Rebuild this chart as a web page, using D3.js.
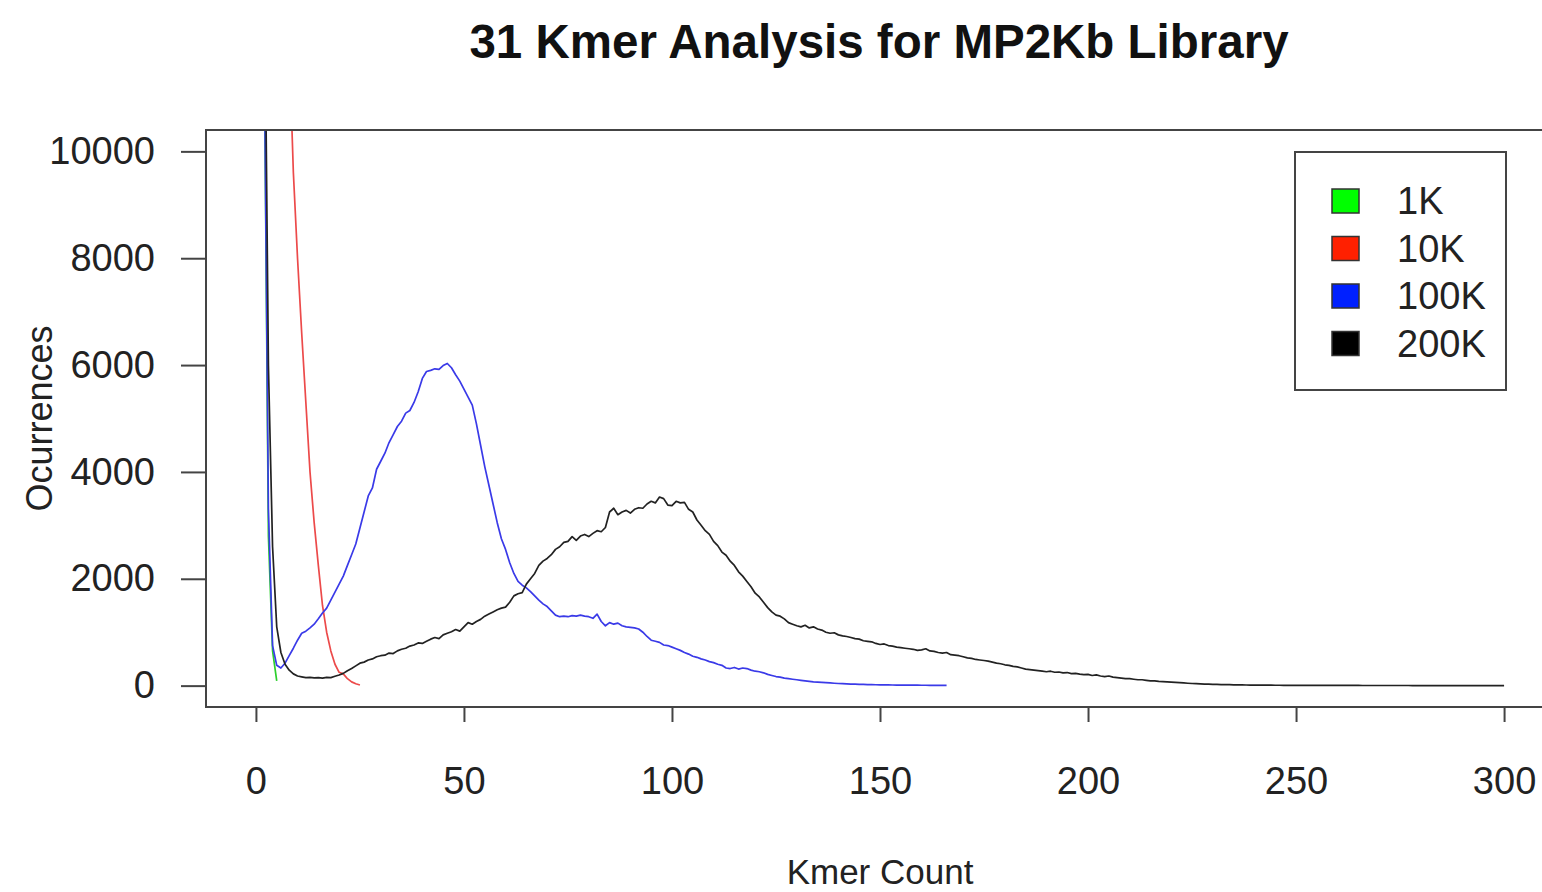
<!DOCTYPE html>
<html>
<head>
<meta charset="utf-8">
<script src="https://cdn.jsdelivr.net/npm/d3@7"></script>
<style>
  body { margin: 0; background: #fff; }
  svg { display: block; font-family: "Liberation Sans", Arial, sans-serif; }
</style>
</head>
<body>
<svg id="chart" width="1542" height="892"></svg>
<script>
// k-mer histogram, value at kmer count 1, 2, 3 ... (one entry per count)
const kmer1K = [150000, 12000, 2800, 650, 90];

const kmer10K = [
  200000, 90000, 50000, 32000, 23000, 17500, 14000, 12000, 9600, 8000,
  6600, 5300, 4000, 3050, 2250, 1500, 1000, 650, 400, 250,
  220, 130, 70, 35, 12
];

const kmer100K = [
  150000, 12000, 3300, 750, 380, 330, 420, 560, 700, 850,
  980, 1020, 1080, 1150, 1250, 1360, 1450, 1600, 1750, 1900,
  2050, 2250, 2450, 2650, 2950, 3250, 3550, 3700, 4050, 4200,
  4350, 4550, 4700, 4850, 4950, 5100, 5150, 5300, 5500, 5750,
  5880, 5900, 5930, 5920, 5990, 6030, 5950, 5820, 5700, 5550,
  5400, 5250, 4900, 4500, 4100, 3750, 3400, 3050, 2750, 2550,
  2300, 2100, 1950, 1880, 1830, 1760, 1680, 1600, 1530, 1480,
  1400, 1320, 1290, 1300, 1290, 1310, 1300, 1320, 1300, 1290,
  1260, 1340, 1200, 1120, 1180, 1150, 1170, 1120, 1100, 1090,
  1080, 1060, 1000, 920, 850, 830, 810, 760, 750, 720,
  690, 660, 620, 590, 550, 530, 500, 480, 450, 430,
  400, 380, 330, 320, 340, 310, 330, 320, 290, 270,
  260, 240, 210, 190, 170, 160, 140, 130, 120, 110,
  100, 90, 80, 70, 65, 60, 55, 50, 45, 40,
  36, 33, 30, 28, 25, 22, 20, 18, 16, 15,
  14, 13, 12, 11, 10, 9, 9, 8, 8, 7,
  7, 6, 6, 5, 5, 5
];

const kmer200K = [
  150000, 14000, 6000, 2600, 1100, 620, 400, 290, 220, 180,
  165, 150, 155, 145, 150, 140, 155, 150, 175, 200,
  230, 280, 320, 370, 420, 440, 480, 500, 540, 560,
  570, 610, 600, 650, 680, 700, 740, 760, 800, 790,
  830, 870, 900, 880, 950, 980, 1010, 1050, 1020, 1100,
  1180, 1150, 1200, 1240, 1300, 1340, 1380, 1420, 1450, 1470,
  1560, 1680, 1720, 1740, 1900, 2000, 2100, 2250, 2330, 2380,
  2450, 2550, 2600, 2680, 2700, 2790, 2720, 2800, 2830, 2790,
  2850, 2900, 2880, 2960, 3250, 3320, 3200, 3250, 3280, 3230,
  3300, 3330, 3320, 3400, 3450, 3420, 3530, 3500, 3380, 3370,
  3450, 3420, 3430, 3300, 3250, 3100, 3000, 2900, 2830, 2700,
  2620, 2500, 2440, 2330, 2250, 2130, 2050, 1950, 1850, 1730,
  1660, 1560, 1460, 1380, 1320, 1300, 1250, 1180, 1150, 1120,
  1100, 1130, 1080, 1100, 1060, 1040, 1000, 980, 990, 950,
  930, 920, 900, 880, 870, 840, 830, 820, 790, 770,
  780, 750, 740, 720, 710, 700, 690, 680, 660, 670,
  690, 650, 640, 620, 610, 620, 580, 570, 560, 540,
  520, 510, 490, 480, 470, 460, 440, 420, 410, 390,
  380, 360, 350, 330, 310, 300, 290, 280, 270, 260,
  270, 250, 255, 240, 245, 225, 230, 215, 205, 210,
  190, 200, 180, 170, 180, 160, 150, 140, 130, 130,
  120, 110, 110, 100, 90, 90, 80, 75, 70, 65,
  60, 55, 50, 45, 40, 38, 34, 30, 28, 25,
  23, 20, 19, 17, 15, 14, 13, 12, 11, 10,
  9, 9, 8, 8, 7, 7, 6, 6, 6, 5,
  5, 5, 5, 4, 4, 4, 4, 4, 3, 3,
  3, 3, 3, 3, 3, 2, 2, 2, 2, 2,
  2, 2, 2, 2, 2, 2, 2, 1, 1, 1,
  1, 1, 1, 1, 1, 1, 1, 1, 1, 1,
  1, 1, 1, 1, 1, 1, 1, 1, 1, 1
];

const seriesNames = ["1K", "10K", "100K", "200K"];
const lineColors = ["#2ccf2c", "#ec4a4a", "#3a3ae8", "#222222"];
const swatchColors = ["#00ff00", "#ff2000", "#0020ff", "#000000"];
const xTicks = [0, 50, 100, 150, 200, 250, 300];
const yTicks = [0, 2000, 4000, 6000, 8000, 10000];

const svg = d3.select("#chart");

// plot region (R style: data range padded by 4%)
const x = d3.scaleLinear().domain([-12, 312]).range([206, 1554]);
const y = d3.scaleLinear().domain([-400, 10400]).range([707, 130]);

svg.append("defs").append("clipPath").attr("id", "plotClip")
  .append("rect")
  .attr("x", x(-12)).attr("y", y(10400))
  .attr("width", x(312) - x(-12)).attr("height", y(-400) - y(10400));

// title
svg.append("text")
  .attr("x", 879).attr("y", 58)
  .attr("text-anchor", "middle")
  .attr("font-size", 47.5)
  .attr("font-weight", "bold")
  .attr("fill", "#111")
  .text("31 Kmer Analysis for MP2Kb Library");

// lines
const line = d3.line()
  .x((d, i) => x(i + 1))
  .y(d => y(d));

const allSeries = [kmer1K, kmer10K, kmer100K, kmer200K];
const lines = svg.append("g").attr("clip-path", "url(#plotClip)");
allSeries.forEach((s, i) => {
  lines.append("path")
    .datum(s)
    .attr("fill", "none")
    .attr("stroke", lineColors[i])
    .attr("stroke-width", 1.7)
    .attr("stroke-linejoin", "round")
    .attr("d", line);
});

// box
svg.append("rect")
  .attr("x", x(-12)).attr("y", y(10400))
  .attr("width", x(312) - x(-12)).attr("height", y(-400) - y(10400))
  .attr("fill", "none")
  .attr("stroke", "#444")
  .attr("stroke-width", 2);

// axes
const xAxis = svg.append("g")
  .attr("transform", `translate(0,${y(-400)})`)
  .call(d3.axisBottom(x).tickValues(xTicks).tickSize(15).tickPadding(45).tickFormat(d3.format("d")));
xAxis.select(".domain").remove();
xAxis.append("line")
  .attr("x1", x(0)).attr("x2", x(300))
  .attr("stroke", "#444").attr("stroke-width", 2);

const yAxis = svg.append("g")
  .attr("transform", `translate(${x(-12)},0)`)
  .call(d3.axisLeft(y).tickValues(yTicks).tickSize(25).tickPadding(26).tickFormat(d3.format("d")));
yAxis.select(".domain").remove();

svg.selectAll(".tick line").attr("stroke", "#444").attr("stroke-width", 2);
svg.selectAll(".tick text")
  .attr("font-size", 38)
  .attr("fill", "#222")
  .attr("font-family", "'Liberation Sans', Arial, sans-serif");

// axis titles
svg.append("text")
  .attr("x", 880).attr("y", 884)
  .attr("text-anchor", "middle")
  .attr("font-size", 35)
  .attr("fill", "#222")
  .text("Kmer Count");

svg.append("text")
  .attr("transform", `translate(52,${(y(10400) + y(-400)) / 2}) rotate(-90)`)
  .attr("text-anchor", "middle")
  .attr("font-size", 36)
  .attr("fill", "#222")
  .text("Ocurrences");

// legend
const legend = svg.append("g");
legend.append("rect")
  .attr("x", 1295).attr("y", 152)
  .attr("width", 211).attr("height", 238)
  .attr("fill", "#fff")
  .attr("stroke", "#444")
  .attr("stroke-width", 2);

seriesNames.forEach((name, i) => {
  const cy = 201 + i * 47.5;
  legend.append("rect")
    .attr("x", 1332).attr("y", cy - 12)
    .attr("width", 27).attr("height", 24)
    .attr("fill", swatchColors[i])
    .attr("stroke", "#333")
    .attr("stroke-width", 1.5);
  legend.append("text")
    .attr("x", 1397).attr("y", cy + 13)
    .attr("font-size", 38)
    .attr("fill", "#222")
    .text(name);
});
</script>
</body>
</html>
